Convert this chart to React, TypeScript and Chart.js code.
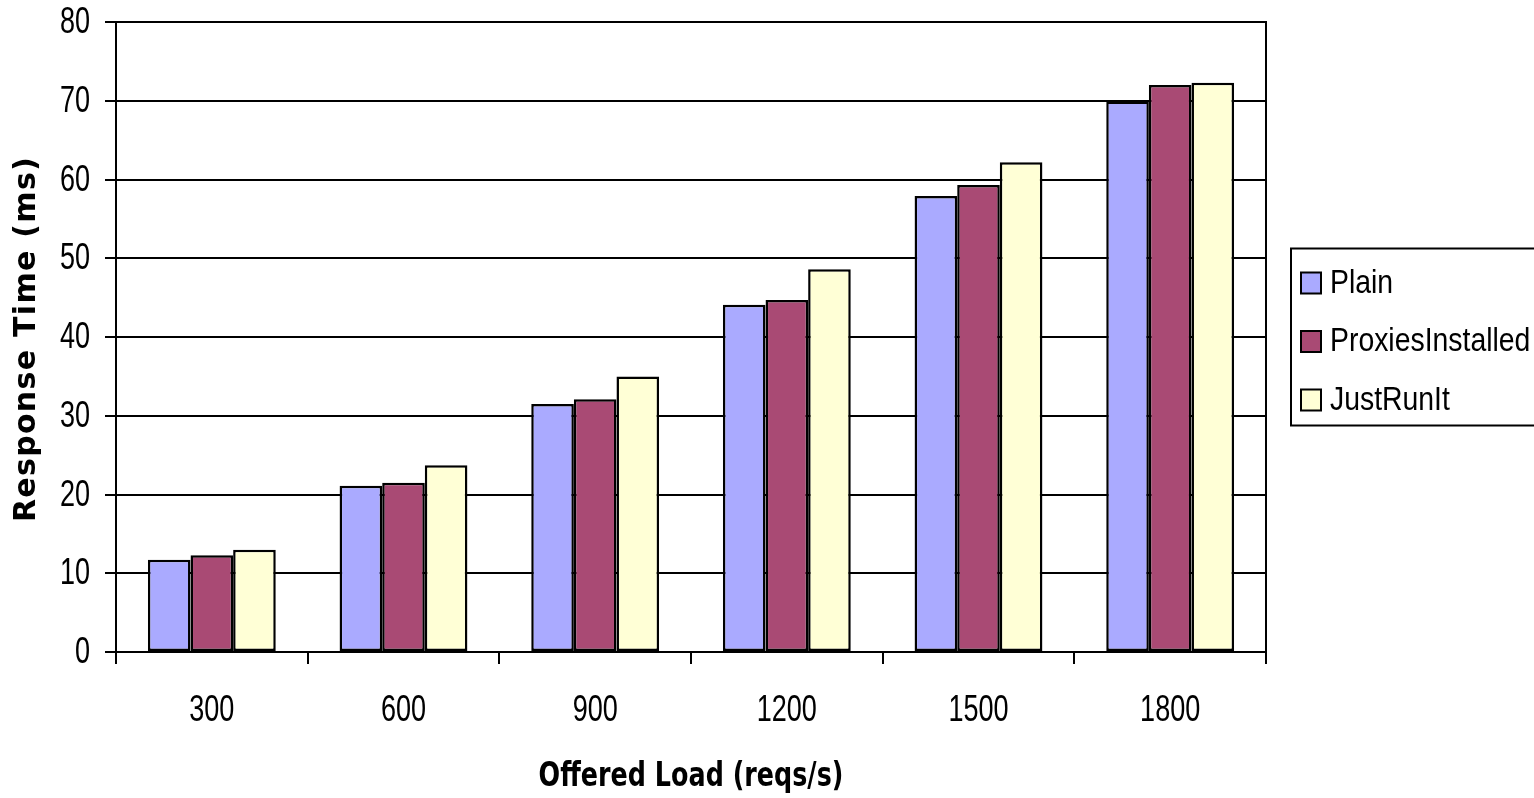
import React, { useEffect, useRef } from "react";
import { Chart, registerables } from "chart.js";

Chart.register(...registerables);

const categories = ["300", "600", "900", "1200", "1500", "1800"];
const plainValues = [11.7, 21.1, 31.5, 44.1, 57.9, 69.9];
const proxiesValues = [12.3, 21.5, 32.1, 44.7, 59.3, 72.0];
const justRunItValues = [13.0, 23.7, 35.0, 48.6, 62.2, 72.3];
const seriesNames = ["Plain", "ProxiesInstalled", "JustRunIt"];
const seriesColors = ["#aaaaff", "#a94a74", "#ffffd6"];
const xTitle = "Offered Load (reqs/s)";
const yTitle = "Response Time (ms)";

const TICK_FONT = "37px 'Liberation Sans', Arial, sans-serif";
const TICK_SX = 0.73;

function drawSqueezed(ctx: any, text: string, x: number, y: number, sx: number, align: string) {
  ctx.save();
  ctx.translate(x, y);
  ctx.scale(sx, 1);
  ctx.textAlign = align;
  ctx.fillText(text, 0, 0);
  ctx.restore();
}

const customText = {
  id: "customText",
  afterDraw(chart: any) {
    const { ctx, chartArea } = chart;
    const xs = chart.scales.x;
    const ys = chart.scales.y;
    ctx.save();
    ctx.strokeStyle = "#000";
    ctx.lineWidth = 2;
    ctx.beginPath();
    ctx.moveTo(chartArea.right, chartArea.top - 1);
    ctx.lineTo(chartArea.right, chartArea.bottom);
    ctx.stroke();

    // tick labels
    ctx.fillStyle = "#000";
    ctx.font = TICK_FONT;
    ctx.textBaseline = "middle";
    ys.ticks.forEach((t: any, i: number) => {
      const y = ys.getPixelForTick(i);
      drawSqueezed(ctx, String(t.value), chartArea.left - 26, y + 1, TICK_SX, "right");
    });
    xs.ticks.forEach((t: any, i: number) => {
      const x = xs.getPixelForTick(i);
      drawSqueezed(ctx, String(chart.data.labels[i]), x, chartArea.bottom + 59, TICK_SX, "center");
    });

    // axis titles
    ctx.font = "bold 33px 'DejaVu Sans', sans-serif";
    drawSqueezed(ctx, xTitle, (chartArea.left + chartArea.right) / 2, chartArea.bottom + 125, 0.77, "center");

    ctx.save();
    ctx.translate(27, (chartArea.top + chartArea.bottom) / 2 + 2);
    ctx.rotate(-Math.PI / 2);
    ctx.font = "bold 30px 'DejaVu Sans', sans-serif";
    (ctx as any).letterSpacing = "1.3px";
    ctx.textAlign = "center";
    ctx.fillText(yTitle, 0, 0);
    ctx.restore();

    // legend box
    const left = chartArea.right + 25;
    const midY = (chartArea.top + chartArea.bottom) / 2;
    const boxH = 177;
    const top = midY - boxH / 2;
    ctx.lineWidth = 2;
    ctx.strokeRect(left, top, 300, boxH);
    const ds = chart.data.datasets;
    ctx.textBaseline = "middle";
    ds.forEach((d: any, i: number) => {
      const y = top + 34 + i * 58.5;
      ctx.fillStyle = d.backgroundColor;
      ctx.fillRect(left + 10, y - 10, 20, 21);
      ctx.lineWidth = 2;
      ctx.strokeStyle = "#000";
      ctx.strokeRect(left + 10, y - 10, 20, 21);
      ctx.fillStyle = "#000";
      ctx.font = "33px 'Liberation Sans', Arial, sans-serif";
      drawSqueezed(ctx, d.label, left + 39, y + 1, 0.86, "left");
    });
    ctx.restore();
  },
};

export default function App() {
  const ref = useRef<HTMLCanvasElement | null>(null);
  useEffect(() => {
    if (!ref.current) return;
    const values = [plainValues, proxiesValues, justRunItValues];
    const chart = new Chart(ref.current, {
      type: "bar",
      data: {
        labels: categories,
        datasets: seriesNames.map((name, i) => ({
          label: name,
          data: values[i],
          backgroundColor: seriesColors[i],
          borderColor: "#000",
          borderWidth: 2.5,
          borderSkipped: false,
          categoryPercentage: 0.667,
          barPercentage: 1,
        })),
      },
      options: {
        animation: false,
        responsive: false,
        maintainAspectRatio: false,
        layout: { padding: { left: 0, right: 268, top: 22, bottom: 0 } },
        plugins: {
          legend: { display: false },
          tooltip: { enabled: false },
        },
        scales: {
          x: {
            grid: {
              display: true,
              drawOnChartArea: false,
              drawTicks: true,
              tickLength: 12,
              color: "#000",
              lineWidth: 2,
              offset: true,
            },
            border: { display: true, color: "#000", width: 2 },
            ticks: { display: false },
            afterFit(scale: any) {
              scale.height = 146;
            },
          },
          y: {
            min: 0,
            max: 80,
            ticks: { stepSize: 10, display: false },
            grid: {
              color: "#000",
              lineWidth: 2,
              tickLength: 11,
            },
            border: { display: true, color: "#000", width: 2 },
            afterFit(scale: any) {
              scale.width = 116;
            },
          },
        },
      },
      plugins: [customText],
    });
    return () => chart.destroy();
  }, []);
  return (
    <div style={{ position: "absolute", left: 0, top: 0, width: 1534, height: 798, background: "#fff" }}>
      <canvas ref={ref} width={1534} height={798} style={{ width: 1534, height: 798, display: "block" }} />
    </div>
  );
}
